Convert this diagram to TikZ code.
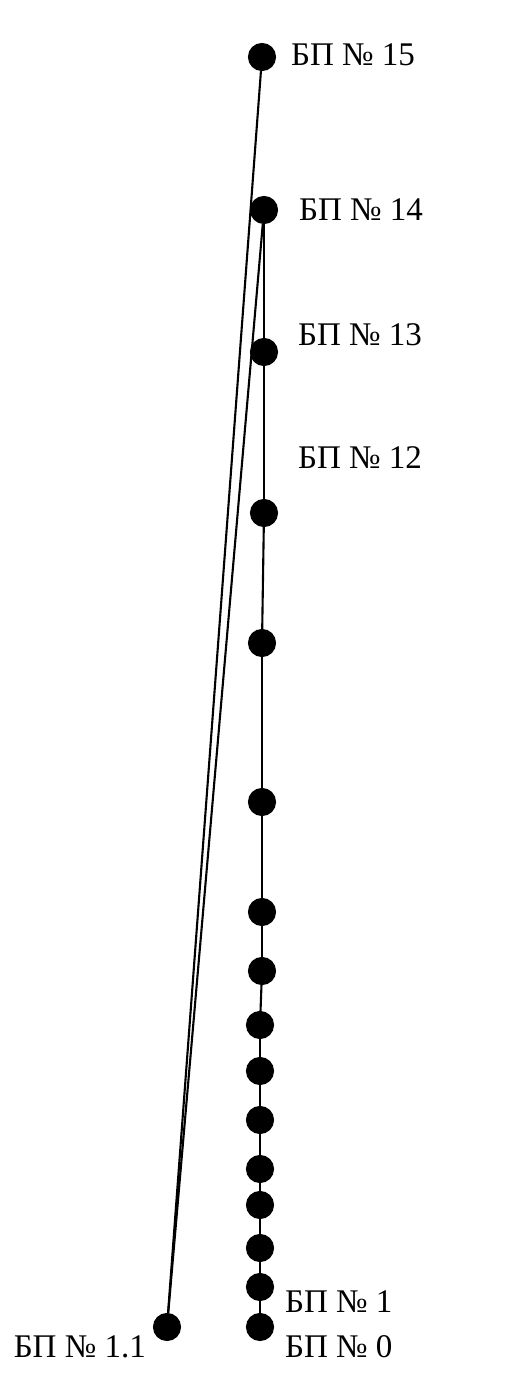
\documentclass[tikz,border=0pt]{standalone}
\usepackage{fontspec}
\setmainfont{Liberation Serif}
\usepackage{tikz}
\usetikzlibrary{positioning}

\begin{document}
\begin{tikzpicture}[thick,line width=0.6pt,
        bp/.style={shape=circle,fill=black,draw=black,inner sep=0pt,minimum size=0.26cm},
        lbl/.style={anchor=base west,inner sep=0pt,font=\fontsize{9.4}{11}\selectfont}]

            \useasboundingbox (0,0) rectangle (5.18,13.88);

            % Main line nodes
            \node[bp] (P0) at (2.60,0.61) {};
            \node[bp] (P1) at (2.60,1.01) {};
            \node[bp] (P2) at (2.60,1.40) {};
            \node[bp] (P3) at (2.60,1.83) {};
            \node[bp] (P4) at (2.60,2.19) {};
            \node[bp] (P5) at (2.60,2.68) {};
            \node[bp] (P6) at (2.60,3.17) {};
            \node[bp] (P7) at (2.60,3.63) {};
            \node[bp] (P8) at (2.62,4.17) {};
            \node[bp] (P9) at (2.62,4.76) {};
            \node[bp] (P10) at (2.62,5.86) {};
            \node[bp] (P11) at (2.62,7.45) {};
            \node[bp] (P12) at (2.64,8.75) {};
            \node[bp] (P13) at (2.64,10.36) {};
            \node[bp] (P14) at (2.64,11.78) {};
            \node[bp] (P15) at (2.62,13.31) {};

            % Branch node
            \node[bp] (P11b) at (1.67,0.61) {};

            % Labels
            \node[lbl] (L15) at (2.90,13.22) {БП № 15};
            \node[lbl] (L14) at (2.98,11.67) {БП № 14};
            \node[lbl] (L13) at (2.97,10.42) {БП № 13};
            \node[lbl] (L12) at (2.97,9.19) {БП № 12};
            \node[lbl] (L1) at (2.84,0.76) {БП № 1};
            \node[lbl] (L0) at (2.84,0.31) {БП № 0};
            \node[lbl,anchor=base east] (L11b) at (1.47,0.31) {БП № 1.1};

            % Lines along the main path
            \foreach \a/\b in {0/1,1/2,2/3,3/4,4/5,5/6,6/7,7/8,8/9,9/10,10/11,11/12,12/13,13/14}
                \draw (P\a) -- (P\b);

            % Lines to the branch node
            \draw (P11b) -- (P14);
            \draw (P11b) -- (P15);

\end{tikzpicture}
\end{document}
